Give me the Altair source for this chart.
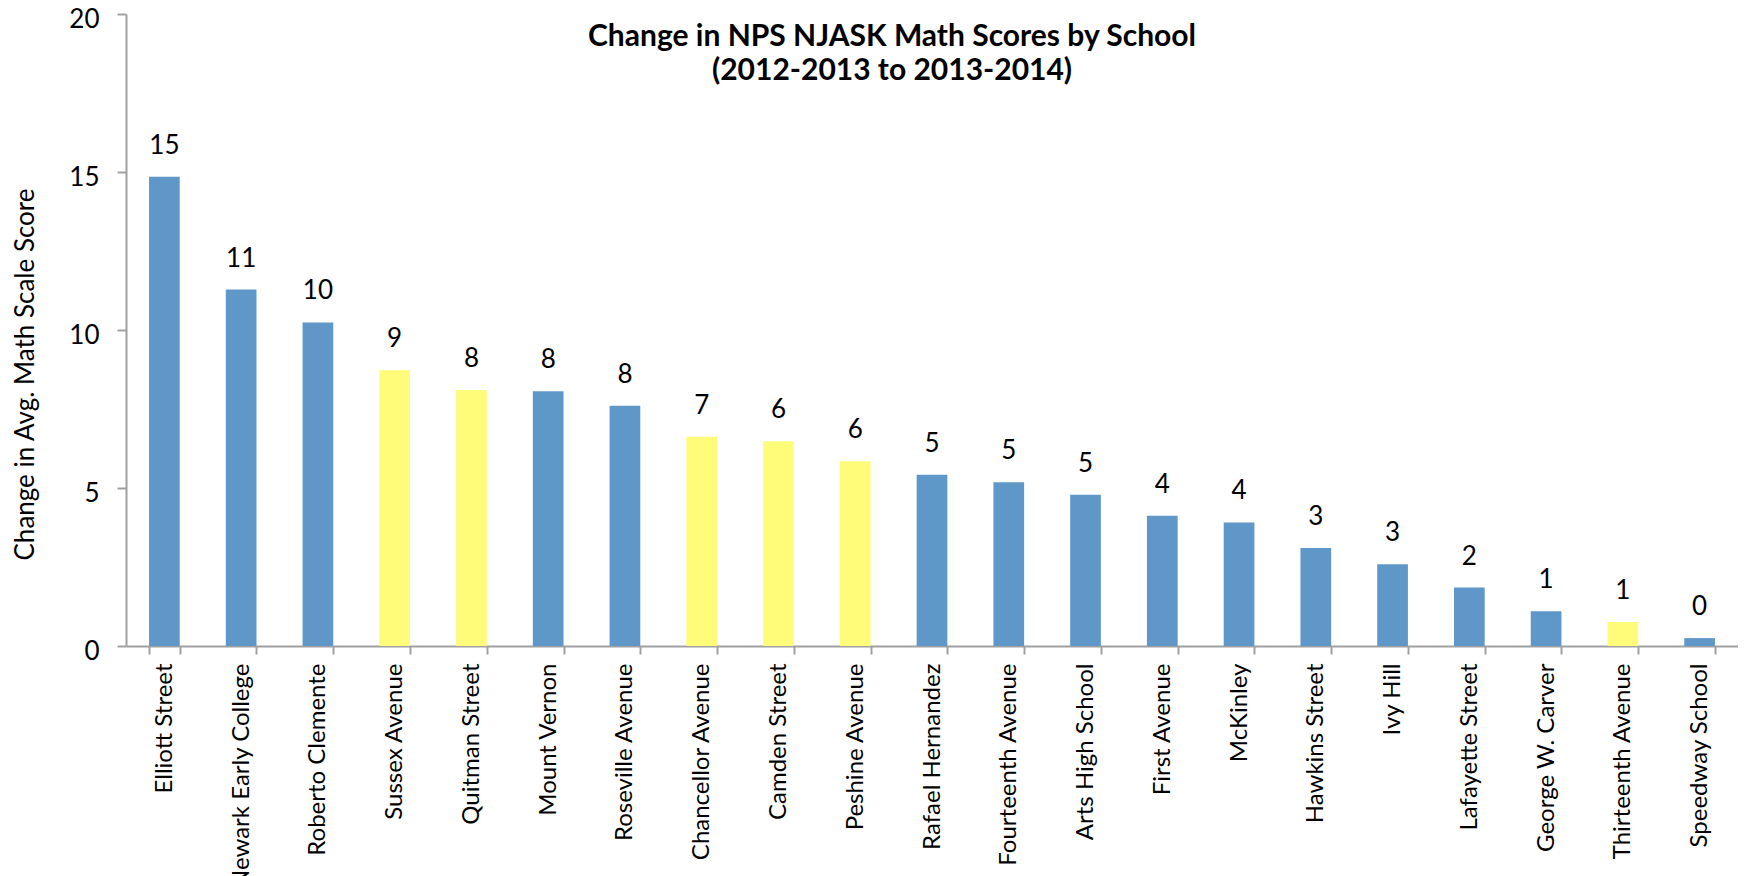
import altair as alt
import pandas as pd

schools = ["Elliott Street", "Newark Early College", "Roberto Clemente", "Sussex Avenue",
           "Quitman Street", "Mount Vernon", "Roseville Avenue", "Chancellor Avenue",
           "Camden Street", "Peshine Avenue", "Rafael Hernandez", "Fourteenth Avenue",
           "Arts High School", "First Avenue", "McKinley", "Hawkins Street", "Ivy Hill",
           "Lafayette Street", "George W. Carver", "Thirteenth Avenue", "Speedway School"]
changes = [14.85, 11.28, 10.24, 8.73, 8.1, 8.06, 7.6, 6.62, 6.48, 5.85, 5.42, 5.18,
           4.79, 4.12, 3.91, 3.1, 2.59, 1.85, 1.1, 0.76, 0.25]
groups = ["blue", "blue", "blue", "yellow", "yellow", "blue", "blue", "yellow",
          "yellow", "yellow", "blue", "blue", "blue", "blue", "blue", "blue", "blue",
          "blue", "blue", "yellow", "blue"]

df = pd.DataFrame({"school": schools, "change": changes, "group": groups})

FONT = "Lato"

x = alt.X("school:N", sort=schools, title=None,
          scale=alt.Scale(paddingInner=0.6, paddingOuter=0.3),
          axis=alt.Axis(labelAngle=-90, labelFont=FONT, labelFontSize=24, labelColor="#000",
                        labelPadding=9, tickBand="extent", tickSize=8, tickColor="#A0A0A0",
                        domainColor="#A0A0A0", tickWidth=2, domainWidth=2, labelLimit=400))
y = alt.Y("change:Q", title="Change in Avg. Math Scale Score",
          scale=alt.Scale(domain=[0, 20], nice=False),
          axis=alt.Axis(values=[0, 5, 10, 15, 20], grid=False, labelFont=FONT, labelFontSize=26,
                        labelColor="#000", labelPadding=18, labelOffset=5, tickSize=9,
                        tickColor="#A0A0A0", domainColor="#A0A0A0", tickWidth=2, domainWidth=2,
                        titleFont=FONT, titleFontSize=26, titleFontWeight="normal",
                        titleColor="#000", titleAngle=270, titleAlign="center",
                        titleBaseline="middle", titleX=-101, titleY=360))

bars = alt.Chart(df).mark_bar().encode(
    x=x, y=y,
    color=alt.Color("group:N", scale=alt.Scale(domain=["blue", "yellow"],
                                               range=["#6097C9", "#FFFC7A"]), legend=None),
)
labels = alt.Chart(df).mark_text(baseline="bottom", dy=-18, font=FONT, fontSize=26,
                                 color="#000").encode(
    x=alt.X("school:N", sort=schools),
    y="change:Q",
    text=alt.Text("change:Q", format=".0f"),
)

chart = (bars + labels).properties(
    width=1612, height=632,
    autosize=alt.AutoSizeParams(type="none"),
    padding={"left": 118, "top": 6, "right": 0, "bottom": 230},
    title=alt.TitleParams(text=["Change in NPS NJASK Math Scores by School",
                                "(2012-2013 to 2013-2014)"],
                          font=FONT, fontSize=30, fontWeight="bold", color="#000",
                          anchor="middle", dx=-40, dy=84, lineHeight=34),
).configure_view(stroke=None)

chart.save("out.html", embed_options={"renderer": "svg", "actions": False})
